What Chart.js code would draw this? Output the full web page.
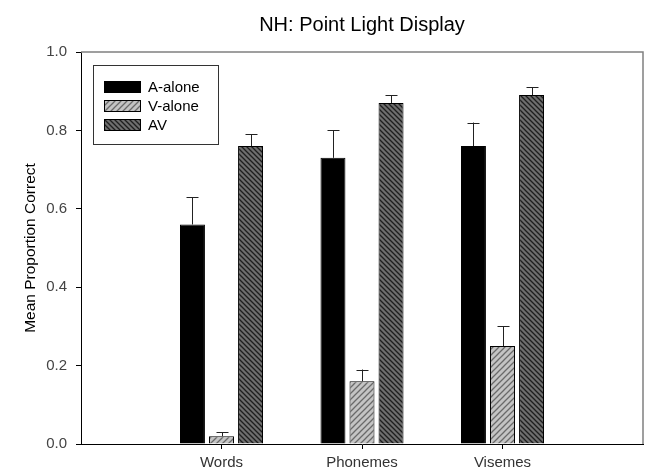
<!DOCTYPE html>
<html lang="en">
<head>
  <meta charset="UTF-8">
  <title>NH: Point Light Display</title>
  <script src="https://cdn.jsdelivr.net/npm/chart.js"></script>
  <style>
    body {
      margin: 0;
      background: #fff;
    }

    .wrap {
      width: 649px;
      height: 476px;
      position: relative;
    }
  </style>
</head>
<body>
  <div class="wrap">
    <canvas id="chart"></canvas>
  </div>
  <script>
    // data
    const categories = ['Words', 'Phonemes', 'Visemes'];
    const seriesNames = ['A-alone', 'V-alone', 'AV'];
    const aAlone = [0.56, 0.73, 0.76];
    const vAlone = [0.02, 0.16, 0.25];
    const av = [0.76, 0.87, 0.89];
    const aAloneErr = [0.07, 0.07, 0.06];
    const vAloneErr = [0.01, 0.03, 0.05];
    const avErr = [0.03, 0.02, 0.02];
    const yTicks = [0, 0.2, 0.4, 0.6, 0.8, 1.0];
    const chartTitle = 'NH: Point Light Display';

    const FONT = 'Arial, "Liberation Sans", sans-serif';

    // empty slots either side so the groups sit at 1/4, 2/4, 3/4 of the axis
    const labels = [''].concat(categories, ['']);
    const pad = arr => [null].concat(arr, [null]);

    function hatch(bg, fg, size, dir) {
      const c = document.createElement('canvas');
      c.width = size;
      c.height = size;
      const g = c.getContext('2d');
      g.fillStyle = bg;
      g.fillRect(0, 0, size, size);
      g.strokeStyle = fg;
      g.lineWidth = 1.3;
      g.beginPath();
      if (dir === '/') {
        g.moveTo(-1, size + 1); g.lineTo(size + 1, -1);
        g.moveTo(-1, 1); g.lineTo(1, -1);
        g.moveTo(size - 1, size + 1); g.lineTo(size + 1, size - 1);
      } else {
        g.moveTo(-1, -1); g.lineTo(size + 1, size + 1);
        g.moveTo(size - 1, -1); g.lineTo(size + 1, 1);
        g.moveTo(-1, size - 1); g.lineTo(1, size + 1);
      }
      g.stroke();
      return c.getContext('2d').createPattern(c, 'repeat');
    }

    const fills = [
      '#000000',
      hatch('#c4c4c4', '#6a6a6a', 6, '/'),
      hatch('#6e6e6e', '#1e1e1e', 5, '\\')
    ];
    const values = [aAlone, vAlone, av];
    const errors = [aAloneErr, vAloneErr, avErr];

    const errorBars = {
      id: 'errorBars',
      afterDatasetsDraw(chart) {
        const ctx = chart.ctx;
        const y = chart.scales.y;
        ctx.save();
        ctx.strokeStyle = '#222';
        ctx.lineWidth = 1;
        chart.data.datasets.forEach((ds, i) => {
          const meta = chart.getDatasetMeta(i);
          meta.data.forEach((bar, j) => {
            if (ds.data[j] == null) return;
            const top = y.getPixelForValue(ds.data[j] + ds.err[j]);
            const x = Math.round(bar.x) + 0.5;
            ctx.beginPath();
            ctx.moveTo(x, bar.y);
            ctx.lineTo(x, top);
            ctx.moveTo(x - 6, Math.round(top) + 0.5);
            ctx.lineTo(x + 6, Math.round(top) + 0.5);
            ctx.stroke();
          });
        });
        ctx.restore();
      }
    };

    const frameAndLegend = {
      id: 'frameAndLegend',
      afterDraw(chart) {
        const ctx = chart.ctx;
        const a = chart.chartArea;
        ctx.save();
        // title, centred over the plot area rather than the canvas
        ctx.fillStyle = '#000';
        ctx.font = '20px ' + FONT;
        ctx.textAlign = 'center';
        ctx.textBaseline = 'alphabetic';
        ctx.fillText(chartTitle, (a.left + a.right) / 2, 31);

        // grey top and right edges of the frame
        ctx.strokeStyle = '#808080';
        ctx.lineWidth = 1.5;
        ctx.beginPath();
        ctx.moveTo(a.left, a.top);
        ctx.lineTo(a.right, a.top);
        ctx.lineTo(a.right, a.bottom);
        ctx.stroke();

        // boxed legend, top left
        ctx.textAlign = 'left';
        ctx.strokeStyle = '#333';
        ctx.lineWidth = 1;
        ctx.strokeRect(93.5, 65.5, 125, 79);
        ctx.font = '15px ' + FONT;
        ctx.textBaseline = 'middle';
        chart.data.datasets.forEach((ds, i) => {
          const yy = 81 + i * 19;
          ctx.fillStyle = ds.backgroundColor;
          ctx.fillRect(104, yy, 37, 12);
          ctx.strokeStyle = '#000';
          ctx.strokeRect(104.5, yy + 0.5, 36, 11);
          ctx.fillStyle = '#000';
          ctx.fillText(ds.label, 148, yy + 6.5);
        });
        ctx.restore();
      }
    };

    new Chart(document.getElementById('chart'), {
      type: 'bar',
      data: {
        labels,
        datasets: seriesNames.map((name, i) => ({
          label: name,
          data: pad(values[i]),
          err: pad(errors[i]),
          backgroundColor: fills[i],
          borderColor: '#000',
          borderWidth: 1,
          categoryPercentage: 0.62,
          barPercentage: 0.86
        }))
      },
      options: {
        responsive: true,
        maintainAspectRatio: false,
        animation: false,
        layout: { padding: { left: 0, right: 6, top: 52, bottom: 0 } },
        plugins: {
          legend: { display: false },
          tooltip: { enabled: false },
          title: { display: false }
        },
        scales: {
          x: {
            type: 'category',
            offset: false,
            afterFit: s => { s.height = 32; },
            border: { color: '#000', width: 1 },
            grid: {
              offset: false,
              drawOnChartArea: false,
              tickLength: 5,
              color: c => (c.tick && c.tick.label ? '#000' : 'rgba(0,0,0,0)')
            },
            ticks: {
              color: '#333',
              font: { family: FONT, size: 15 },
              padding: 5,
              maxRotation: 0,
              autoSkip: false
            }
          },
          y: {
            min: 0,
            max: 1,
            afterFit: s => { s.width = 81; },
            afterBuildTicks: s => { s.ticks = yTicks.map(v => ({ value: v })); },
            border: { color: '#000', width: 1 },
            grid: { drawOnChartArea: false, tickLength: 5, color: '#000' },
            ticks: {
              color: '#444',
              font: { family: FONT, size: 15 },
              padding: 9,
              callback: v => v.toFixed(1)
            },
            title: {
              display: true,
              text: 'Mean Proportion Correct',
              color: '#000',
              font: { family: FONT, size: 15.5 },
              padding: { top: 21, bottom: 0 }
            }
          }
        }
      },
      plugins: [errorBars, frameAndLegend]
    });
  </script>
</body>
</html>
